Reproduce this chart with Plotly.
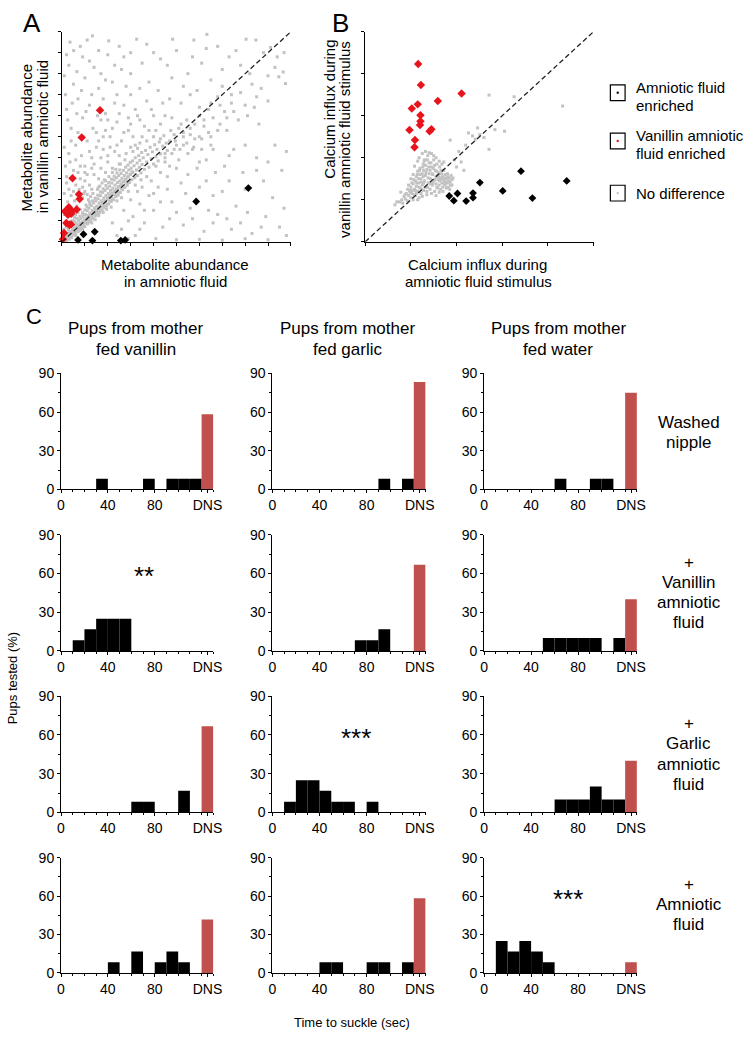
import plotly.graph_objects as go

W, H = 754, 1038
FONT = "Liberation Sans, Arial, sans-serif"
RED_BAR = "#C0504D"
GREY = "#c2c2c2"
RED_PT = "#e8141c"

# ---------------- Panel A data (arbitrary units 0-10) ----------------
A_RANGE = 10
RED_A_X = [1.66, 0.86, 0.46, 0.74, 0.77, 0.30, 0.13, 0.44, 0.40, 0.64, 0.19, 0.33, 0.40, 0.09, 0.04, 0.26]
RED_A_Y = [6.26, 4.96, 3.03, 2.26, 2.04, 1.65, 1.45, 1.45, 1.33, 1.54, 0.90, 0.80, 0.83, 0.42, 0.12, 1.29]
BLACK_A_X = [8.14, 5.86, 1.43, 0.94, 0.70, 1.33, 2.57, 2.76]
BLACK_A_Y = [2.56, 1.92, 0.48, 0.36, 0.09, 0.06, 0.06, 0.09]
GREY_A = [
    (0.05,0.10),(0.10,0.22),(0.15,0.08),(0.18,0.30),(0.22,0.18),(0.25,0.40),(0.30,0.25),(0.32,0.12),(0.35,0.48),(0.38,0.33),
    (0.42,0.20),(0.45,0.55),(0.48,0.38),(0.50,0.62),(0.12,0.45),(0.08,0.60),(0.20,0.70),(0.28,0.58),(0.15,0.85),(0.05,0.35),
    (0.55,0.45),(0.58,0.72),(0.60,0.30),(0.62,0.90),(0.65,0.58),(0.68,0.80),(0.70,0.48),(0.72,1.02),(0.75,0.66),(0.78,0.88),
    (0.80,0.55),(0.82,1.10),(0.85,0.75),(0.88,0.95),(0.90,0.62),(0.92,1.20),(0.95,0.85),(0.98,1.05),(1.00,0.72),(0.55,1.15),
    (0.60,1.30),(0.70,1.40),(0.45,1.00),(0.40,1.25),(0.35,0.95),(0.50,1.50),(0.65,1.70),(0.30,1.60),(0.80,1.55),(0.90,1.35),
    (1.02,1.30),(1.05,0.95),(1.08,1.15),(1.10,1.48),(1.12,0.85),(1.15,1.25),(1.18,1.60),(1.20,1.05),(1.22,1.38),(1.25,0.98),
    (1.28,1.72),(1.30,1.20),(1.32,1.50),(1.35,1.10),(1.38,1.85),(1.40,1.35),(1.42,1.62),(1.45,1.22),(1.48,1.95),(1.50,1.45),
    (1.05,1.75),(1.15,2.00),(1.25,2.15),(1.35,2.30),(1.00,2.40),(1.20,1.90),(1.30,0.90),(1.45,1.05),
    (1.52,1.70),(1.55,1.32),(1.58,2.05),(1.60,1.55),(1.62,1.85),(1.65,1.40),(1.68,2.20),(1.70,1.65),(1.72,1.95),(1.75,1.50),
    (1.78,2.35),(1.80,1.80),(1.82,2.08),(1.85,1.62),(1.88,2.45),(1.90,1.92),(1.92,2.20),(1.95,1.70),(1.98,2.55),(2.00,2.02),
    (1.55,2.50),(1.65,2.65),(1.75,2.80),(1.85,2.95),(1.60,1.25),(1.80,1.40),(1.95,1.55),
    (2.02,2.30),(2.05,1.80),(2.08,2.65),(2.10,2.10),(2.12,2.45),(2.15,1.92),(2.18,2.80),(2.20,2.25),(2.22,2.55),(2.25,2.00),
    (2.28,2.95),(2.30,2.38),(2.32,2.70),(2.35,2.15),(2.38,3.05),(2.40,2.50),(2.42,2.82),(2.45,2.22),(2.48,3.15),(2.50,2.62),
    (2.05,3.10),(2.20,3.30),(2.35,3.45),(2.15,1.65),(2.40,1.95),
    (2.52,2.90),(2.55,2.35),(2.58,3.25),(2.60,2.72),(2.62,3.02),(2.65,2.48),(2.68,3.40),(2.70,2.85),(2.72,3.15),(2.75,2.60),
    (2.78,3.55),(2.80,2.98),(2.82,3.28),(2.85,2.70),(2.88,3.65),(2.90,3.10),(2.92,3.42),(2.95,2.82),(2.98,3.78),(3.00,3.20),
    (2.55,3.70),(2.75,3.90),(2.60,2.10),(2.90,2.40),
    (3.02,3.50),(3.05,2.95),(3.08,3.85),(3.10,3.30),(3.15,3.62),(3.18,3.05),(3.20,4.00),(3.25,3.42),(3.28,3.75),(3.30,3.15),
    (3.35,4.10),(3.38,3.55),(3.40,3.88),(3.45,3.28),(3.48,4.25),(3.50,3.68),(3.10,4.30),(3.30,4.45),(3.20,2.70),(3.45,2.95),
    (3.55,4.00),(3.60,3.45),(3.65,4.35),(3.70,3.80),(3.75,4.15),(3.80,3.55),(3.85,4.50),(3.90,3.95),(3.95,4.28),(4.00,3.70),
    (4.05,4.62),(4.10,4.05),(4.15,4.40),(4.20,3.85),(4.25,4.75),(4.30,4.18),(4.40,4.55),(4.50,4.00),(3.70,4.80),(4.00,5.00),
    (4.45,5.05),(4.60,4.35),(4.70,4.80),(4.80,4.20),(4.90,5.10),(5.00,4.60),
    (0.10,0.15),(0.20,0.05),(0.28,0.35),(0.40,0.42),(0.52,0.50),(0.63,0.68),(0.74,0.76),(0.86,0.86),(0.96,0.95),(1.07,1.06),
    (1.17,1.18),(1.27,1.28),(1.37,1.40),(1.47,1.50),(1.57,1.62),(1.67,1.72),(1.77,1.85),(1.87,1.95),(1.97,2.08),(2.07,2.18),
    (2.17,2.30),(2.27,2.40),(2.37,2.52),(2.47,2.63),(2.57,2.75),(2.67,2.86),(2.77,2.98),(2.87,3.09),(2.97,3.22),(3.07,3.33),
    (0.30,0.75),(0.42,0.85),(0.55,0.98),(0.66,1.12),(0.78,1.22),(0.90,1.38),(1.00,1.52),(1.10,1.66),(1.22,1.78),(1.34,1.95),
    (1.45,2.08),(1.56,2.22),(1.68,2.38),(1.80,2.52),(1.92,2.68),(2.04,2.82),(2.16,2.98),(2.28,3.12),(2.40,3.28),(2.52,3.42),
    (0.45,0.30),(0.58,0.42),(0.70,0.58),(0.83,0.68),(0.95,0.78),(1.08,0.90),(1.20,0.95),(1.33,1.12),(1.45,1.30),(1.58,1.42),
    (1.70,1.52),(1.83,1.68),(1.95,1.80),(2.08,1.95),(2.20,2.05),(2.33,2.22),(2.45,2.35),(2.58,2.52),(2.70,2.62),(2.83,2.80),
    (0.2,2.8),(0.5,3.4),(0.8,3.0),(0.3,4.2),(0.6,4.6),(1.0,3.6),(1.3,4.0),(0.4,5.4),(0.9,5.9),(1.5,5.2),
    (1.8,4.4),(2.1,5.0),(0.2,6.3),(0.7,6.8),(1.2,6.5),(1.9,6.1),(2.4,5.7),(2.7,6.5),(0.5,7.5),(1.0,7.8),
    (1.6,7.3),(2.2,7.6),(3.0,7.0),(3.3,6.0),(0.3,8.4),(0.9,8.8),(1.4,8.3),(2.0,8.9),(2.6,8.2),(3.5,8.5),
    (0.51,9.1),(1.33,9.8),(2.04,9.56),(3.26,9.64),(2.9,5.3),(3.6,5.5),(3.9,6.3),(4.2,7.2),(4.5,6.0),(4.8,7.8),
    (5.2,6.6),(5.5,8.0),(4.0,9.0),(4.83,9.64),(5.76,9.6),(5.9,7.2),(6.1,8.5),(6.33,9.87),(1.1,4.8),(0.7,5.2),
    (1.7,5.8),(2.3,4.3),(2.6,4.8),(3.1,5.0),(3.4,4.7),(0.15,3.6),(0.4,2.2),(0.75,2.5),(1.0,2.9),(1.4,3.2),
    (1.7,3.5),(2.0,3.8),(2.5,4.1),(3.0,4.5),(3.8,5.3),(4.3,5.6),(1.2,2.7),(1.6,3.0),(1.9,3.3),(0.55,1.95),
    (0.25,1.9),(0.1,1.3),(0.9,2.1),(1.1,2.25),
    (6.8,9.3),(7.3,8.8),(8.04,9.64),(8.47,9.6),(9.66,8.08),(9.76,7.53),(9.47,7.85),(9.11,9.25),(7.0,7.4),(7.8,7.1),
    (8.5,6.9),(6.5,6.6),(7.5,6.2),(8.2,8.0),(9.0,6.7),(6.2,5.8),(6.8,5.3),(7.2,5.9),(8.6,5.6),(5.6,5.4),
    (5.3,5.0),(6.0,5.0),(9.4,8.8),
    (5.5,4.2),(6.0,3.8),(6.6,4.4),(7.3,4.1),(7.9,3.3),(8.5,4.0),(9.3,4.6),(5.0,3.5),(4.6,3.1),(5.2,2.8),
    (6.3,2.9),(7.0,2.4),(8.8,2.9),(9.6,3.4),(4.2,2.6),(3.8,2.2),(3.4,1.8),(4.0,1.5),(4.8,1.9),(5.6,1.6),
    (6.8,1.3),(7.6,1.7),(8.9,1.2),(3.1,1.2),(3.6,0.9),(4.4,0.7),(5.3,0.8),(6.2,0.5),(7.4,0.6),(8.3,0.4),
    (9.5,0.7),(2.6,0.6),(3.2,0.3),(4.1,0.15),(5.0,0.10),(6.0,0.12),(7.0,0.08),(8.0,0.15),(9.0,0.1),(2.2,0.9),
    (2.7,1.5),(3.0,2.0),(4.5,3.8),(5.8,4.9),(6.4,5.2),
    (0.1,2.3),(0.3,2.5),(0.6,2.7),(0.9,2.6),(0.2,3.1),(0.45,3.0),(0.7,3.3),(1.1,3.2),(1.3,3.5),(0.35,3.8),
    (0.6,3.9),(0.85,4.1),(1.2,4.3),(1.5,4.5),(0.1,4.5),(0.4,4.8),(0.95,5.0),(1.35,5.4),(1.8,5.0),(2.2,5.4),
    (0.25,5.8),(0.65,6.1),(1.05,6.2),(1.55,6.0),(2.0,5.8),(2.5,6.1),(0.15,7.0),(0.45,6.6),(0.85,7.2),(1.3,7.0),
    (1.8,6.8),(2.4,7.0),(2.8,7.4),(0.1,7.9),(0.65,8.1),(1.2,8.6),(1.7,8.0),(2.3,8.4),(3.0,8.0),(0.35,9.5),
    (0.8,9.3),(1.6,9.1),(2.5,9.3),(3.0,9.0),(3.7,9.4),(4.3,8.7),(3.8,7.6),(3.4,7.3),(4.6,8.4),(5.0,9.1),
    (5.3,7.4),(4.4,6.6),(3.7,6.7),(3.2,6.3),(2.9,5.9),(2.3,6.6),(1.9,7.7),(2.7,8.8),(1.1,9.6),(0.2,8.9),
    (1.6,2.6),(1.9,2.9),(2.2,3.5),(2.5,3.7),(2.8,4.2),(3.2,4.6),(3.5,5.0),(2.0,4.1),(2.4,4.6),(1.7,4.0),
    (1.4,3.7),(1.0,3.3),(0.8,3.6),(2.7,5.2),(3.0,5.6),(3.4,5.8),(1.3,2.5),(0.95,2.3),(0.5,2.4),(2.1,4.5),
    (1.6,4.8),(1.9,5.3),(4.0,6.0),(4.1,5.3),(4.8,5.9),(5.2,5.6),(4.7,6.8),(5.6,7.0),(6.0,6.4),(6.5,7.7),
    (7.0,8.2),(7.6,9.1),(8.8,9.0),(7.8,8.4),(8.3,7.5),(6.3,9.2),(5.7,8.8),(6.8,6.9),(7.4,7.0),(8.0,6.5),
    (4.3,4.9),(4.55,4.7),(4.75,5.3),(4.95,4.8),(5.1,5.4),(5.3,5.2),(5.45,5.8),(5.6,5.1),(5.8,5.6),(6.0,6.0),
    (6.2,5.5),(6.4,6.3),(6.6,5.9),(6.9,6.5),(7.1,6.2),(7.4,6.6),(5.15,4.4),(5.45,4.7),(5.75,4.5),(6.1,4.9),
    (6.5,5.0),(6.9,5.6),(7.2,5.3),(7.7,5.8),(8.1,6.0),(8.4,6.4),(8.7,7.3),(9.0,7.9),(9.3,8.3),(9.7,9.0),
    (3.5,2.6),(3.9,2.9),(4.3,3.3),(4.7,3.6),(5.1,3.9),(5.5,3.2),(5.9,3.5),(6.3,3.9),(6.7,3.3),(7.1,3.6),
    (7.5,4.4),(8.0,4.6),(3.7,3.1),(4.1,3.6),(4.5,4.2),(4.9,4.4),(5.3,4.6),(5.7,4.4),(6.1,4.4),(6.5,4.6),
    (3.3,2.4),(4.0,2.3),(4.6,2.5),(5.4,2.3),(6.0,2.6),(6.6,2.2),(7.3,2.9),(8.0,2.5),(8.5,3.4),(9.0,3.8),
    (9.8,4.3),(3.6,1.5),(4.3,1.9),(5.0,1.4),(5.9,1.9),(6.4,1.5),(7.2,1.1),(8.1,1.4),(9.2,2.1),(9.7,1.6),
    (2.9,1.0),(3.4,0.6),(4.7,1.1),(5.7,1.1),(6.6,0.9),(7.8,0.9),(8.7,0.7),(9.8,0.3),(2.4,0.3),(2.9,0.15),
]

# ---------------- Panel B data (arbitrary units 0-5) ----------------
B_RANGE = 5
RED_B_X = [1.16, 1.22, 2.11, 1.59, 1.15, 1.02, 1.21, 1.21, 1.20, 0.97, 1.41, 1.45, 1.09, 1.08]
RED_B_Y = [4.23, 3.73, 3.53, 3.35, 3.27, 3.17, 3.01, 2.87, 2.78, 2.66, 2.63, 2.68, 2.42, 2.25]
BLACK_B_X = [3.41, 4.41, 2.51, 3.01, 1.84, 2.02, 1.94, 2.21, 2.36, 2.36, 3.66]
BLACK_B_Y = [1.68, 1.45, 1.41, 1.21, 1.09, 1.15, 0.98, 0.97, 1.16, 1.05, 1.04]
GREY_B = [
    (0.75,0.95),(0.80,1.00),(0.82,0.92),(0.85,1.08),(0.88,1.02),(0.90,1.15),(0.92,0.98),(0.95,1.10),(0.97,1.22),(1.00,1.05),
    (1.00,1.30),(1.02,1.15),(1.05,1.38),(1.05,1.00),(1.08,1.25),(1.10,1.45),(1.10,1.10),(1.12,1.32),(1.12,1.55),(1.15,1.20),
    (1.15,1.68),(1.17,1.40),(1.18,1.05),(1.20,1.28),(1.20,1.75),(1.22,1.50),(1.22,1.15),(1.25,1.62),(1.25,1.35),(1.27,1.85),
    (1.28,1.22),(1.30,1.45),(1.30,1.95),(1.32,1.58),(1.33,1.30),(1.35,1.72),(1.35,1.12),(1.37,2.05),(1.38,1.40),(1.40,1.62),
    (1.40,1.88),(1.42,1.25),(1.43,1.50),(1.45,1.78),(1.45,2.10),(1.47,1.35),(1.48,1.60),(1.50,1.45),(1.50,1.95),(1.52,1.20),
    (1.53,1.70),(1.55,1.38),(1.55,1.55),(1.57,1.85),(1.58,1.28),(1.60,1.48),(1.60,1.65),(1.62,1.35),(1.63,1.78),(1.65,1.52),
    (1.65,1.25),(1.67,1.62),(1.68,1.40),(1.70,1.55),(1.70,1.30),(1.72,1.70),(1.73,1.45),(1.75,1.35),(1.75,1.60),(1.78,1.50),
    (1.80,1.40),(1.80,1.62),(1.82,1.30),(1.84,1.52),(1.86,1.42),(1.88,1.58),(1.90,1.35),(1.90,1.48),
    (0.95,1.35),(1.00,1.50),(1.05,1.60),(1.08,1.80),(1.15,1.92),(1.18,2.00),(1.25,2.10),(1.32,2.15),(1.40,2.12),(1.50,2.05),
    (1.55,2.00),(1.62,1.92),(1.68,1.85),(1.72,1.90),
    (1.15,1.00),(1.25,1.08),(1.35,1.20),(1.45,1.15),(1.55,1.10),(1.62,1.18),(1.70,1.20),(1.78,1.28),(1.85,1.25),(1.10,1.22),
    (1.18,1.30),(1.28,1.40),(1.38,1.52),(1.48,1.40),(1.58,1.58),(1.28,1.70),(1.20,1.60),(1.42,1.70),(1.52,1.82),(1.32,1.82),
    (0.98,1.18),(1.03,1.22),(1.07,1.12),(1.13,1.40),(1.23,1.42),(1.27,1.55),(1.33,1.65),(1.37,1.30),(1.43,1.38),(1.47,1.62),
    (1.53,1.48),(1.57,1.30),(1.63,1.45),(1.67,1.50),(1.73,1.38),(1.77,1.42),(0.87,1.12),(0.93,1.25),(1.17,1.50),(1.24,1.25),
    (1.02,1.40),(1.06,1.48),(1.14,1.60),(1.19,1.70),(1.26,1.78),(1.29,1.92),(1.36,1.95),(1.39,1.78),(1.44,1.88),(1.49,1.75),
    (1.56,1.68),(1.61,1.55),(1.66,1.70),(1.71,1.48),(1.76,1.52),(1.81,1.55),(1.83,1.45),(1.87,1.35),(1.92,1.52),(1.12,1.15),
    (2.71,3.49),(3.26,3.45),(4.32,3.23),(2.26,2.59),(2.46,2.71),(2.71,2.20),(3.05,2.63),(2.84,2.67),(2.16,1.70),(1.86,2.42),
    (0.69,0.95),(0.65,0.88),(2.41,2.44),(2.51,2.55),(2.35,2.52),(2.05,2.15),(2.20,2.30),(2.60,2.48),(1.95,1.95),(2.00,1.78),
    (2.10,1.90),(0.78,1.18),
]

# ---------------- Panel C data: % of pups per 10-s bin ----------------
BIN_CENTERS = [5, 15, 25, 35, 45, 55, 65, 75, 85, 95, 105, 115]   # seconds (0-120 s, 10-s bins)
DNS_POS = 125                                                      # "did not suckle" bar
X_TICKS = [0, 40, 80, DNS_POS]
X_TICKTEXT = ["0", "40", "80", "DNS"]
Y_TICKS = [0, 30, 60, 90]
COL_TITLES = [("Pups from mother", "fed vanillin"), ("Pups from mother", "fed garlic"), ("Pups from mother", "fed water")]
ROW_LABELS = [["Washed", "nipple"], ["+", "Vanillin", "amniotic", "fluid"], ["+", "Garlic", "amniotic", "fluid"], ["+", "Amniotic", "fluid"]]

# row 1: washed nipple
WASHED_VAN = [0, 0, 0, 8.3, 0, 0, 0, 8.3, 0, 8.3, 8.3, 8.3]
WASHED_GAR = [0, 0, 0, 0, 0, 0, 0, 0, 0, 8.3, 0, 8.3]
WASHED_WAT = [0, 0, 0, 0, 0, 0, 8.3, 0, 0, 8.3, 8.3, 0]
WASHED_DNS = [58.3, 83.3, 75.0]
# row 2: + vanillin amniotic fluid
VANAF_VAN = [0, 8.3, 16.7, 25, 25, 25, 0, 0, 0, 0, 0, 0]
VANAF_GAR = [0, 0, 0, 0, 0, 0, 0, 8.3, 8.3, 16.7, 0, 0]
VANAF_WAT = [0, 0, 0, 0, 0, 10, 10, 10, 10, 10, 0, 10]
VANAF_DNS = [0, 66.7, 40]
# row 3: + garlic amniotic fluid
GARAF_VAN = [0, 0, 0, 0, 0, 0, 8.3, 8.3, 0, 0, 16.7, 0]
GARAF_GAR = [0, 8.3, 25, 25, 16.7, 8.3, 8.3, 0, 8.3, 0, 0, 0]
GARAF_WAT = [0, 0, 0, 0, 0, 0, 10, 10, 10, 20, 10, 10]
GARAF_DNS = [66.7, 0, 40]
# row 4: + amniotic fluid
AF_VAN = [0, 0, 0, 0, 8.3, 0, 16.7, 0, 8.3, 16.7, 8.3, 0]
AF_GAR = [0, 0, 0, 0, 8.3, 8.3, 0, 0, 8.3, 8.3, 0, 8.3]
AF_WAT = [0, 25, 16.7, 25, 16.7, 8.3, 0, 0, 0, 0, 0, 0]
AF_DNS = [41.7, 58.3, 8.3]

ROWS = [
    ([WASHED_VAN, WASHED_GAR, WASHED_WAT], WASHED_DNS),
    ([VANAF_VAN, VANAF_GAR, VANAF_WAT], VANAF_DNS),
    ([GARAF_VAN, GARAF_GAR, GARAF_WAT], GARAF_DNS),
    ([AF_VAN, AF_GAR, AF_WAT], AF_DNS),
]
STARS = {(1, 0): "**", (2, 1): "***", (3, 2): "***"}


def px(x):
    return x / W


def py(y):
    return 1 - y / H


fig = go.Figure()
layout = dict(
    width=W, height=H, margin=dict(l=0, r=0, t=0, b=0, pad=0),
    paper_bgcolor="white", plot_bgcolor="white", showlegend=False,
    font=dict(family=FONT, color="black", size=14), barmode="overlay",
    annotations=[], shapes=[],
)

# ---- scatter panels ----
def scatter_axes(k, x0, x1, rng, nticks_y, nticks_x):
    ax = dict(domain=[px(x0), px(x1)], range=[0, rng], showline=True, linecolor="black", linewidth=1.2,
              ticks="outside", ticklen=3, tickcolor="black", tickwidth=1, showticklabels=False,
              showgrid=False, zeroline=False, fixedrange=True, anchor=f"y{k}" if k > 1 else "y",
              tickmode="linear", tick0=0, dtick=rng / nticks_x)
    ay = dict(domain=[py(237.5), py(24)], range=[0, rng], showline=True, linecolor="black", linewidth=1.2,
              ticks="outside", ticklen=3, tickcolor="black", tickwidth=1, showticklabels=False,
              showgrid=False, zeroline=False, fixedrange=True, anchor=f"x{k}" if k > 1 else "x",
              tickmode="linear", tick0=0, dtick=rng / nticks_y)
    return ax, ay


axA, ayA = scatter_axes(1, 59, 292, A_RANGE, 10, 10)
axB, ayB = scatter_axes(2, 367.5, 600, B_RANGE, 5, 5)
layout["xaxis"], layout["yaxis"] = axA, ayA
layout["xaxis2"], layout["yaxis2"] = axB, ayB

for (xr, yr, rng, grey, rx, ry, bx, by) in [
    ("x", "y", A_RANGE, GREY_A, RED_A_X, RED_A_Y, BLACK_A_X, BLACK_A_Y),
    ("x2", "y2", B_RANGE, GREY_B, RED_B_X, RED_B_Y, BLACK_B_X, BLACK_B_Y),
]:
    fig.add_trace(go.Scatter(x=[p[0] for p in grey], y=[p[1] for p in grey], mode="markers", xaxis=xr, yaxis=yr,
                             marker=dict(symbol="square", size=3, color=GREY, line=dict(width=0)), cliponaxis=False))
    layout["shapes"].append(dict(type="line", xref=xr, yref=yr, x0=0, y0=0, x1=rng, y1=rng,
                                 line=dict(color="#222222", width=1.3, dash="5px,3px")))
    fig.add_trace(go.Scatter(x=rx, y=ry, mode="markers", xaxis=xr, yaxis=yr,
                             marker=dict(symbol="diamond", size=6.5, color=RED_PT, line=dict(width=0)), cliponaxis=False))
    fig.add_trace(go.Scatter(x=bx, y=by, mode="markers", xaxis=xr, yaxis=yr,
                             marker=dict(symbol="diamond", size=6, color="black", line=dict(width=0)), cliponaxis=False))

# ---- histogram panels ----
COL_X = [(58, 213), (273, 429), (488.5, 644)]
ROW_Y = [(371, 489), (535, 653), (699, 817), (863, 980)]
for r, (vals3, dns3) in enumerate(ROWS):
    for c in range(3):
        k = 3 + r * 3 + c
        xa = dict(domain=[px(COL_X[c][0]), px(COL_X[c][1])], range=[0, 130], showline=True, linecolor="black",
                  linewidth=1, ticks="outside", ticklen=3, tickcolor="black", tickwidth=1,
                  tickvals=X_TICKS, ticktext=X_TICKTEXT, tickfont=dict(size=14, family=FONT),
                  minor=dict(tickvals=[10, 20, 30, 50, 60, 70, 90, 100, 110, 120, 130], ticks="outside",
                             ticklen=2, tickcolor="black", tickwidth=1),
                  showgrid=False, zeroline=False, fixedrange=True, anchor=f"y{k}")
        ya = dict(domain=[py(ROW_Y[r][1]), py(ROW_Y[r][0])], range=[0, 90], showline=True, linecolor="black",
                  linewidth=1, ticks="outside", ticklen=3, tickcolor="black", tickwidth=1,
                  tickvals=Y_TICKS, tickfont=dict(size=14, family=FONT),
                  minor=dict(tickvals=[15, 45, 75], ticks="outside", ticklen=2, tickcolor="black", tickwidth=1),
                  showgrid=False, zeroline=False, fixedrange=True, anchor=f"x{k}")
        layout[f"xaxis{k}"] = xa
        layout[f"yaxis{k}"] = ya
        fig.add_trace(go.Bar(x=BIN_CENTERS, y=vals3[c], width=10, xaxis=f"x{k}", yaxis=f"y{k}",
                             marker=dict(color="black", line=dict(width=0))))
        fig.add_trace(go.Bar(x=[DNS_POS], y=[dns3[c]], width=10, xaxis=f"x{k}", yaxis=f"y{k}",
                             marker=dict(color=RED_BAR, line=dict(width=0))))
        if (r, c) in STARS:
            layout["annotations"].append(dict(text=STARS[(r, c)], xref=f"x{k}", yref=f"y{k}", x=71, y=58,
                                              showarrow=False, font=dict(size=26, family=FONT),
                                              xanchor="center", yanchor="middle"))


def txt(s, x, y, size, angle=0, xanchor="center"):
    layout["annotations"].append(dict(text=s, x=px(x), y=py(y), xref="paper", yref="paper", showarrow=False,
                                      xanchor=xanchor, yanchor="middle", textangle=angle,
                                      font=dict(size=size, family=FONT, color="black")))


# panel letters
txt("A", 28, 15, 26)
txt("B", 342, 15, 26)
txt("C", 31, 313, 22)

# scatter axis titles
txt("Metabolite abundance", 174, 261, 15)
txt("in amniotic fluid", 174, 278, 15)
txt("Metabolite abundance", 23, 132, 15, angle=-90)
txt("in vanillin amniotic fluid", 40, 131, 15, angle=-90)
txt("Calcium influx during", 482, 261, 15)
txt("amniotic fluid stimulus", 483, 278, 15)
txt("Calcium influx during", 331, 103, 15, angle=-90)
txt("vanillin amniotic fluid stimulus", 347, 134, 15, angle=-90)

# legend
LEG = [("black", ["Amniotic fluid", "enriched"], 86), (RED_PT, ["Vanillin amniotic", "fluid enriched"], 135),
       (GREY, ["No difference"], 188)]
for col, lines, cy in LEG:
    layout["shapes"].append(dict(type="rect", xref="paper", yref="paper", x0=px(617), x1=px(632),
                                 y0=py(cy + 8), y1=py(cy - 8), line=dict(color="black", width=1.2)))
    layout["shapes"].append(dict(type="circle", xref="paper", yref="paper", x0=px(623.3), x1=px(625.7),
                                 y0=py(cy + 1.2), y1=py(cy - 1.2), fillcolor=col, line=dict(width=0)))
    if len(lines) == 2:
        txt(lines[0], 641, cy - 5, 15, xanchor="left")
        txt(lines[1], 641, cy + 13, 15, xanchor="left")
    else:
        txt(lines[0], 641, cy, 15, xanchor="left")

# column titles
for c, (l1, l2) in enumerate(COL_TITLES):
    cx = [134, 350, 564][c]
    txt(l1, cx, 326, 17)
    txt(l2, cx, 347, 17)

# row labels
for r, lines in enumerate(ROW_LABELS):
    zero = ROW_Y[r][1]
    start = zero - (68 if r == 0 else 90)
    for i, s in enumerate(lines):
        txt(s, 697, start + i * 20.5, 17)

# shared axis titles for C
txt("Pups tested (%)", 9, 680, 13, angle=-90)
txt("Time to suckle (sec)", 354, 1030, 13)

fig.update_layout(**layout)
fig.write_html("out.html", include_plotlyjs=True, config={"displayModeBar": False},
               post_script="document.body.style.margin='0';document.body.style.overflow='hidden';")
